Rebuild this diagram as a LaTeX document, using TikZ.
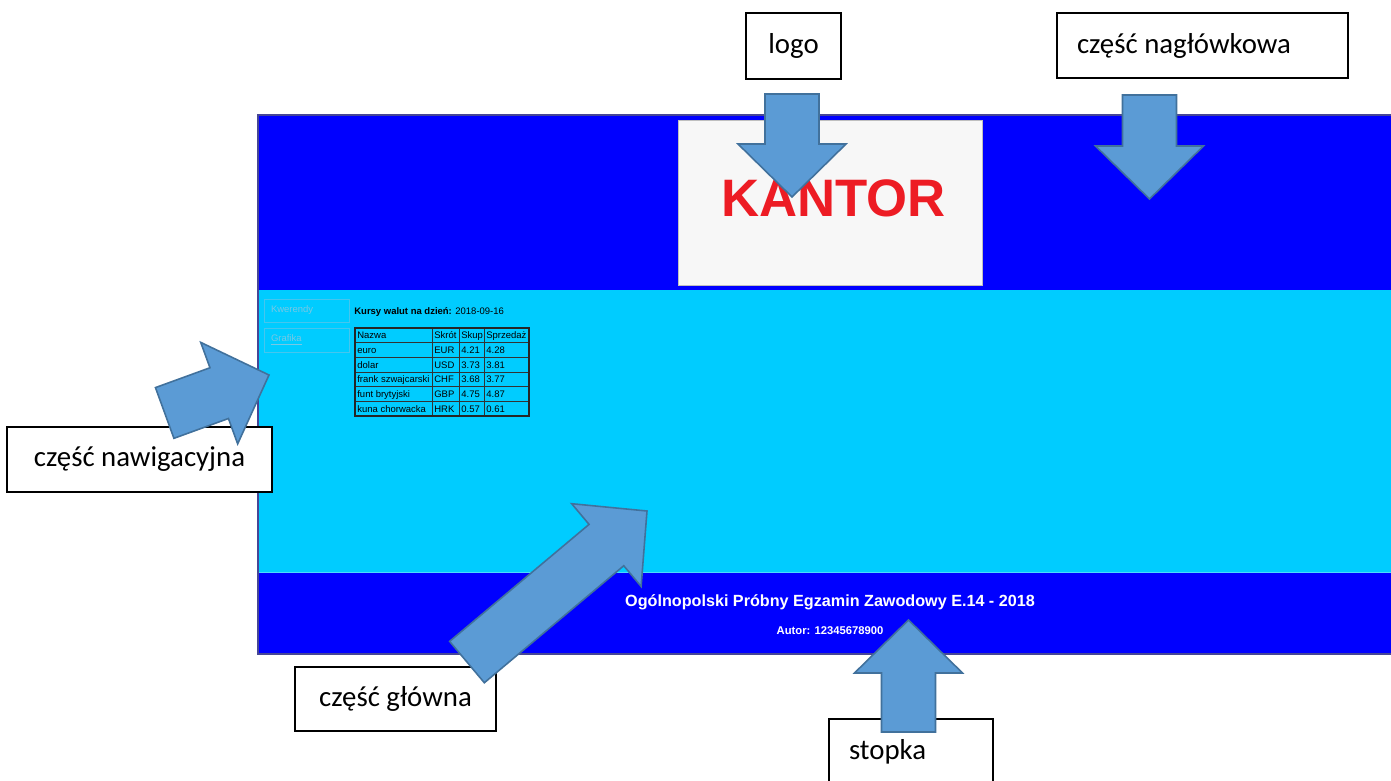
\documentclass[tikz,border=0pt]{standalone}
\usepackage{fontspec}
\setmainfont{Liberation Sans}
\newfontfamily\labelfont{Carlito}
\definecolor{pageblue}{RGB}{0,0,255}
\definecolor{pagecyan}{RGB}{0,204,255}
\definecolor{pageedge}{RGB}{70,70,150}
\definecolor{arrowfill}{RGB}{91,155,213}
\definecolor{arrowline}{RGB}{65,113,156}
\definecolor{kantorred}{RGB}{237,28,36}
\definecolor{navtext}{RGB}{120,200,228}
\definecolor{navline}{RGB}{70,198,238}

\begin{document}
\begin{tikzpicture}[x=0.02cm, y=-0.02cm,
    labelbox/.style={draw=black, fill=white, line width=1.1pt, inner sep=0pt, font=\labelfont\fontsize{16.4}{20}\selectfont},
    navbox/.style={draw=navline, line width=0.4pt, text=navtext, inner xsep=0.14cm, inner ysep=0pt, align=flush left, font=\fontsize{5.4}{6.5}\selectfont},
    webtext/.style={inner sep=0pt, font=\fontsize{5.4}{6.5}\selectfont},
    cellline/.style={draw=black!80, line width=0.5pt},
    blockarrow/.style={draw=arrowline, fill=arrowfill, line width=0.9pt, line join=miter}]
    \clip (0,0) rectangle (1391,780);
    % strona
    \fill[pageblue] (258,115) rectangle (1400,290);
    \fill[pagecyan] (258,290) rectangle (1400,572);
    \fill[pageblue] (258,572) rectangle (1400,654);
    \draw[pagecyan!70!white, line width=0.4pt] (258,572) -- (1400,572);
    \draw[pageedge, line width=0.8pt] (1400,115) -- (258,115) -- (258,654) -- (1400,654);
    % logo
    \node[draw=gray!50, fill=gray!6, minimum width=6.08cm, minimum height=3.3cm, inner sep=0pt] (logo) at (830,202.5) {};
    \node[anchor=base, inner sep=0pt, text=kantorred, font=\bfseries\fontsize{30}{36}\selectfont] (kantor) at (833.5,217) {KANTOR};
    % nawigacja
    \node[navbox, text width=1.42cm, minimum height=0.46cm] (kwerendy) at (306.5,310.5) {Kwerendy};
    \node[navbox, text width=1.42cm, minimum height=0.48cm] (grafika) at (306.5,340) {\underline{Grafika}};
    % tabela kursow
    \node[webtext, anchor=base west] (kursy) at (354,315) {\textbf{Kursy walut na dzień:} 2018-09-16};
    \foreach \r in {0,...,6}
        \draw[cellline] (355,{328+14.67*\r}) -- (529,{328+14.67*\r});
    \foreach \c in {355,432,459,484,529}
        \draw[cellline] (\c,328) -- (\c,416);
    \draw[black!85, line width=0.8pt] (355,328) rectangle (529,416);
    \foreach \n/\s/\b/\p [count=\r from 0] in {Nazwa/Skrót/Skup/Sprzedaż, euro/EUR/4.21/4.28, dolar/USD/3.73/3.81, frank szwajcarski/CHF/3.68/3.77, funt brytyjski/GBP/4.75/4.87, kuna chorwacka/HRK/0.57/0.61} {
        \node[webtext, anchor=base west] (nazwa\r) at (357,{338.7+14.67*\r}) {\n};
        \node[webtext, anchor=base west] (skrot\r) at (434,{338.7+14.67*\r}) {\s};
        \node[webtext, anchor=base west] (skup\r) at (461,{338.7+14.67*\r}) {\b};
        \node[webtext, anchor=base west] (sprzedaz\r) at (486,{338.7+14.67*\r}) {\p};
    }
    % stopka strony
    \node[anchor=base, inner sep=0pt, text=white, font=\bfseries\fontsize{9.2}{11}\selectfont] (egzamin) at (830,606.8) {Ogólnopolski Próbny Egzamin Zawodowy E.14 - 2018};
    \node[anchor=base, inner sep=0pt, text=white, font=\bfseries\fontsize{6.4}{8}\selectfont] (autor) at (830,634) {Autor: 12345678900};
    % opisy
    \node[labelbox, minimum width=1.9cm, minimum height=1.32cm] (logolbl) at (793.5,46) {logo};
    \node[labelbox, inner xsep=0.4cm, text width=5.02cm, minimum height=1.3cm, align=flush left] (naglowek) at (1202.5,45.5) {część nagłówkowa};
    \node[labelbox, minimum width=5.3cm, minimum height=1.3cm] (nawigacja) at (139.5,459.5) {część nawigacyjna};
    \node[labelbox, minimum width=4.02cm, minimum height=1.28cm] (glowna) at (395.5,699) {część główna};
    \node[labelbox, inner xsep=0.4cm, text width=2.48cm, minimum height=1.3cm, align=flush left] (stopka) at (911,751.5) {stopka};
    % strzalki
    \foreach \tx/\ty/\ang/\len in {792/197/-90/103, 1149.5/199/-90/104, 908.5/620/90/112, 269/375/20/111, 647/511/40/235}
        \draw[blockarrow, shift={(\tx,\ty)}, rotate=\ang] (0,0) -- (-53,54) -- (-53,27) -- (-\len,27) -- (-\len,-27) -- (-53,-27) -- (-53,-54) -- cycle;
\end{tikzpicture}
\end{document}
